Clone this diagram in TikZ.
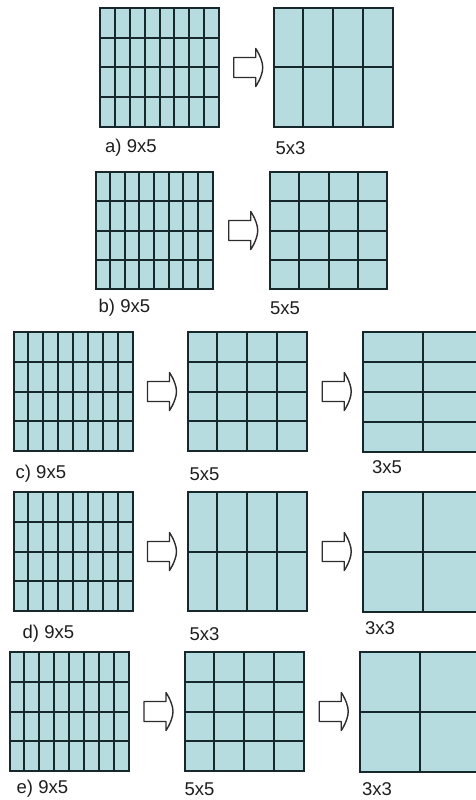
\documentclass[tikz,border=0pt]{standalone}
\usepackage{fontspec}
\setmainfont{Liberation Sans}
\usepackage{tikz}
\usetikzlibrary{calc}
\definecolor{cellfill}{RGB}{182,220,224}
\definecolor{gridink}{RGB}{22,40,44}
\definecolor{arrowink}{RGB}{45,45,45}
\definecolor{labelink}{RGB}{30,30,30}
\tikzset{
  cellgrid/.style={
    draw=gridink,
    fill=cellfill,
    line width=2pt,
    inner sep=0pt,
    outer sep=0pt,
    minimum width=119pt,
    minimum height=119pt
  },
  gridrule/.style={draw=gridink, line width=2pt},
  gridlabel/.style={anchor=west, inner sep=0pt, text=labelink,
    font=\fontsize{18.5}{20}\selectfont},
  widearrow/.pic={
    \draw[draw=arrowink, fill=white, line width=1.4pt, line join=round]
      (-14.5,-10) -- (7.5,-10) -- (7.5,-19)
      .. controls (12,-12) and (14.5,-5) .. (14.5,0)
      .. controls (14.5,5) and (12,12) .. (7.5,19)
      -- (7.5,10) -- (-14.5,10) -- cycle;
  }
}
\begin{document}
\begin{tikzpicture}[x=1pt,y=-1pt]
\clip (0,0) rectangle (476,800);
\fill[white] (0,0) rectangle (476,800);
% grids: name / centre / columns / rows
\foreach \n/\x/\y/\c/\r/\s in {a1/159.5/67.5/8/4/119, a2/333/67.5/4/2/119,
    b1/154/230.5/8/4/117, b2/328.5/230.5/4/4/117,
    c1/73/391.5/8/4/119, c2/247/391.5/4/4/119, c3/423/391.5/2/4/120,
    d1/73/551.5/8/4/119, d2/247/551.5/4/2/119, d3/423/551.5/2/2/120,
    e1/69/711.5/8/4/119, e2/244/711.5/4/4/119, e3/420/711.5/2/2/120}{
  \node[cellgrid,minimum width=\s pt,minimum height=\s pt] (\n) at (\x,\y) {};
  \pgfmathtruncatemacro\cc{\c-1}
  \pgfmathtruncatemacro\rr{\r-1}
  \foreach \i in {1,...,\cc}
    \draw[gridrule] ($(\n.north west)!{\i/\c}!(\n.north east)$) -- ($(\n.south west)!{\i/\c}!(\n.south east)$);
  \foreach \j in {1,...,\rr}
    \draw[gridrule] ($(\n.north west)!{\j/\r}!(\n.south west)$) -- ($(\n.north east)!{\j/\r}!(\n.south east)$);
}
% arrows between grids
\foreach \p/\q in {a1/a2, b1/b2, c1/c2, c2/c3, d1/d2, d2/d3, e1/e2, e2/e3}
  \pic at ($(\p.east)!0.5!(\q.west)+(2,0)$) {widearrow};
% labels under the grids
\foreach \n/\dx/\dy/\t in {a1/5/21/{a) 9x5}, a2/2/21/{5x3},
    b1/3/19/{b) 9x5}, b2/0/19/{5x5},
    c1/2/23/{c) 9x5}, c2/2/23/{5x5}, c3/9/16/{3x5},
    d1/9/23/{d) 9x5}, d2/2/23/{5x3}, d3/2/17/{3x3},
    e1/7/18/{e) 9x5}, e2/0/18/{5x5}, e3/2/18/{3x3}}
  \node[gridlabel] (\n-label) at ($(\n.south west)+(\dx,\dy)$) {\t};
\end{tikzpicture}
\end{document}
